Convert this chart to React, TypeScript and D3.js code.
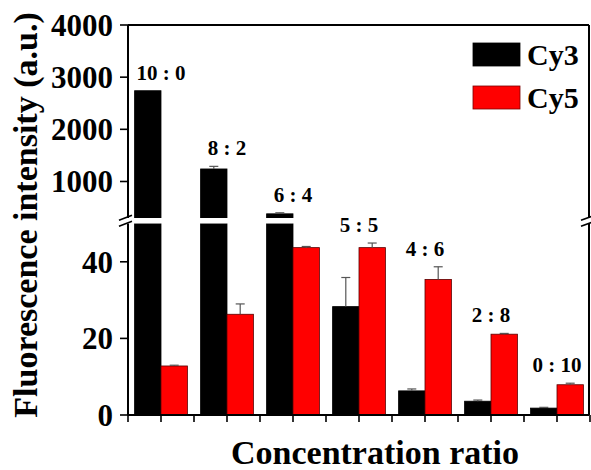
import React from "react";
import * as d3 from "d3";

const categories = ["10 : 0", "8 : 2", "6 : 4", "5 : 5", "4 : 6", "2 : 8", "0 : 10"];
const seriesNames = ["Cy3", "Cy5"];
const cy3Values = [2740, 1240, 380, 28.3, 6.3, 3.6, 1.8];
const cy3Errors = [0, 50, 20, 7.6, 0.5, 0.3, 0.2];
const cy5Values = [12.8, 26.3, 43.7, 43.7, 35.4, 21.1, 7.9];
const cy5Errors = [0.2, 2.7, 0.3, 1.2, 3.3, 0.2, 0.4];
const lowerTicks = [0, 20, 40];
const upperTicks = [1000, 2000, 3000, 4000];
const colors = ["#000000", "#ff0000"];

const W = 591, H = 470;
const L = 128, R = 589, T = 25, B = 415;
const upperBottom = 218, lowerTop = 223.5;
const LOWER_MAX = 50, UPPER_MIN = 300, UPPER_MAX = 4000;
const FONT = "'Liberation Serif', 'Times New Roman', serif";

export default function App() {
  const x = d3.scaleBand<string>().domain(categories).range([L, R + 1]).paddingInner(0.2).paddingOuter(0.1);
  const xs = d3.scaleBand<string>().domain(seriesNames).range([0, x.bandwidth()]).padding(0);
  const yLow = d3.scaleLinear().domain([0, LOWER_MAX]).range([B, lowerTop]);
  const yUp = d3.scaleLinear().domain([UPPER_MIN, UPPER_MAX]).range([upperBottom, T]);
  const yPos = (v: number) => (v > LOWER_MAX ? yUp(v) : yLow(v));

  const series = [
    { name: seriesNames[0], values: cy3Values, errors: cy3Errors, color: colors[0] },
    { name: seriesNames[1], values: cy5Values, errors: cy5Errors, color: colors[1] },
  ];

  const step = x.step();
  const tickXs: number[] = [];
  categories.forEach((c) => tickXs.push((x(c) as number) + x.bandwidth() / 2));
  for (let i = 0; i <= categories.length; i++) tickXs.push(L + i * step);

  const bars: React.ReactNode[] = [];
  const errs: React.ReactNode[] = [];
  series.forEach((s, si) => {
    s.values.forEach((v, i) => {
      const bx = (x(categories[i]) as number) + (xs(s.name) as number);
      const bw = xs.bandwidth();
      const stroke = si === 1 ? "#5a0000" : "#000";
      if (v > LOWER_MAX) {
        bars.push(<rect key={`l${si}-${i}`} x={bx} y={lowerTop} width={bw} height={B - lowerTop} fill={s.color} stroke={stroke} strokeWidth={0.8} />);
        bars.push(<rect key={`u${si}-${i}`} x={bx} y={yUp(v)} width={bw} height={upperBottom - yUp(v)} fill={s.color} stroke={stroke} strokeWidth={0.8} />);
      } else {
        bars.push(<rect key={`b${si}-${i}`} x={bx} y={yLow(v)} width={bw} height={B - yLow(v)} fill={s.color} stroke={stroke} strokeWidth={0.8} />);
      }
      const e = s.errors[i];
      if (e > 0) {
        const cx = bx + bw / 2;
        const y0 = yPos(v);
        const y1 = yPos(v + e);
        errs.push(
          <g key={`e${si}-${i}`} stroke="#555" strokeWidth={1.2}>
            <line x1={cx} x2={cx} y1={y0} y2={y1} />
            <line x1={cx - 4.5} x2={cx + 4.5} y1={y1} y2={y1} />
          </g>
        );
      }
    });
  });

  const labels = categories.map((c, i) => {
    const top = Math.min(yPos(cy3Values[i] + cy3Errors[i]), yPos(cy5Values[i] + cy5Errors[i]));
    const cx = (x(c) as number) + x.bandwidth() / 2;
    return (
      <text key={`lab${i}`} x={cx} y={top - 11} textAnchor="middle" fontSize={21} fontWeight="bold" fontFamily={FONT}>
        {c}
      </text>
    );
  });

  const midBreak = (upperBottom + lowerTop) / 2;

  return (
    <svg width={W} height={H} style={{ position: "absolute", left: 0, top: 0, background: "#fff" }}>
      <rect x={0} y={0} width={W} height={H} fill="#fff" />
      {bars}
      {errs}
      {/* gap through bars */}
      <rect x={L + 1} y={upperBottom} width={R - L - 2} height={lowerTop - upperBottom} fill="#fff" />
      {labels}
      {/* frame */}
      <g stroke="#000" strokeWidth={2} fill="none">
        <line x1={L} x2={R} y1={T} y2={T} />
        <line x1={L} x2={R} y1={B} y2={B} />
        <line x1={L} x2={L} y1={T} y2={upperBottom} />
        <line x1={L} x2={L} y1={lowerTop} y2={B} />
        <line x1={R} x2={R} y1={T} y2={upperBottom} />
        <line x1={R} x2={R} y1={lowerTop} y2={B} />
      </g>
      {/* break marks */}
      <g stroke="#000" strokeWidth={1.6}>
        <line x1={L - 9} x2={L + 4} y1={midBreak - 0.5} y2={midBreak - 5.5} />
        <line x1={L - 9} x2={L + 4} y1={midBreak + 5.5} y2={midBreak + 0.5} />
        <line x1={R - 8} x2={R + 3} y1={midBreak - 0.5} y2={midBreak - 4.5} />
        <line x1={R - 8} x2={R + 3} y1={midBreak + 5.5} y2={midBreak + 1.5} />
      </g>
      {/* y ticks */}
      <g stroke="#000" strokeWidth={1.6}>
        {lowerTicks.map((t) => (
          <line key={`lt${t}`} x1={L - 8} x2={L} y1={yLow(t)} y2={yLow(t)} />
        ))}
        {upperTicks.map((t) => (
          <line key={`ut${t}`} x1={L - 8} x2={L} y1={yUp(t)} y2={yUp(t)} />
        ))}
        {tickXs.map((tx, i) => (
          <line key={`xt${i}`} x1={tx} x2={tx} y1={B} y2={B + 7} />
        ))}
      </g>
      <g fontFamily={FONT} fontWeight="bold" fontSize={31} textAnchor="end">
        {lowerTicks.map((t) => (
          <text key={`ll${t}`} x={L - 15} y={yLow(t)} dy="0.35em">{t}</text>
        ))}
        {upperTicks.map((t) => (
          <text key={`ul${t}`} x={L - 15} y={yUp(t)} dy="0.35em">{t}</text>
        ))}
      </g>
      {/* axis titles */}
      <text transform={`translate(37,215) rotate(-90)`} textAnchor="middle" fontFamily={FONT} fontWeight="bold" fontSize={34}>
        Fluorescence intensity (a.u.)
      </text>
      <text x={375} y={464} textAnchor="middle" fontFamily={FONT} fontWeight="bold" fontSize={34}>
        Concentration ratio
      </text>
      {/* legend */}
      {series.map((s, i) => (
        <g key={`leg${i}`}>
          <rect x={473} y={43 + i * 43} width={47} height={23} fill={s.color} stroke={i === 1 ? "#7a0000" : "#000"} strokeWidth={0.8} />
          <text x={527} y={65 + i * 43} fontFamily={FONT} fontWeight="bold" fontSize={30}>{s.name}</text>
        </g>
      ))}
    </svg>
  );
}
